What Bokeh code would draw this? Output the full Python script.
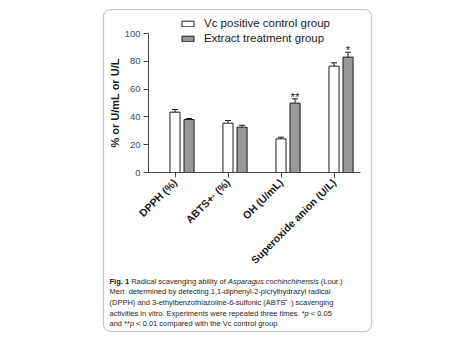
from bokeh.plotting import figure
from bokeh.models import (ColumnDataSource, Range1d, FixedTicker, Whisker,
                          TeeHead, Legend, LegendItem, Label, BoxAnnotation)
from bokeh.core.properties import value
from bokeh.embed import file_html
from bokeh.resources import INLINE

# ---- data ----
categories = ["DPPH (%)", "ABTS+· (%)", "OH (U/mL)", "Superoxide anion (U/L)"]
vc_values = [43.4, 35.5, 24.2, 76.5]
vc_errors = [1.9, 1.9, 1.2, 2.4]
ext_values = [38.1, 32.6, 49.9, 83.0]
ext_errors = [0.7, 1.4, 3.1, 3.5]
stars = ["", "", "**", "*"]
series_names = ["Vc positive control group", "Extract treatment group"]
y_ticks = [0, 20, 40, 60, 80, 100]
y_label = "% or U/mL or U/L"

caption_lines = [
    [("Fig. 1", "bold"), (" Radical scavenging ability of ", "normal"),
     ("Asparagus cochinchinensis", "italic"), (" (Lour.)", "normal")],
    [("Merr. determined by detecting 1,1-diphenyl-2-picrylhydrazyl radical", "normal")],
    [("(DPPH) and 3-ethylbenzothiazoline-6-sulfonic (ABTS⁺·) scavenging", "normal")],
    [("activities in vitro. Experiments were repeated three times. *", "normal"),
     ("p", "italic"), (" < 0.05", "normal")],
    [("and **", "normal"), ("p", "italic"), (" < 0.01 compared with the Vc control group", "normal")],
]

# ---- layout constants (canvas pixels) ----
W, H = 450, 342
X0_PX, X_PX_PER = 148.0, 53.0      # x value 0 at canvas x=148
Y0_PX, Y_PX_PER = 172.0, 1.39      # y value 0 at canvas y=172
FONT = "Liberation Sans"
OFF = 0.265
BW = 0.19

n = len(categories)
pos_vc = [i + 0.5 for i in range(n)]
pos_ext = [i + 0.5 + OFF for i in range(n)]

src = ColumnDataSource(dict(
    xv=pos_vc, xe=pos_ext, vc=vc_values, ext=ext_values,
    vc_up=[v + e for v, e in zip(vc_values, vc_errors)],
    ext_up=[v + e for v, e in zip(ext_values, ext_errors)],
))

x_range = Range1d(-X0_PX / X_PX_PER, (W - X0_PX) / X_PX_PER)
y_range = Range1d((Y0_PX - H) / Y_PX_PER, Y0_PX / Y_PX_PER)

p = figure(width=W, height=H, x_range=x_range, y_range=y_range,
           output_backend="svg", toolbar_location=None, min_border=0)
p.outline_line_color = None
p.xgrid.visible = False
p.ygrid.visible = False

r_vc = p.vbar(x="xv", top="vc", width=BW, source=src,
              fill_color="white", line_color="#1a1a1a", line_width=1)
r_ext = p.vbar(x="xe", top="ext", width=BW, source=src,
               fill_color="#999999", line_color="#1a1a1a", line_width=1)

for col_x, col_base, col_up in (("xv", "vc", "vc_up"), ("xe", "ext", "ext_up")):
    w = Whisker(source=src, base=col_x, lower=col_base, upper=col_up,
                line_color="#1a1a1a", line_width=1, lower_head=None,
                upper_head=TeeHead(size=6, line_color="#1a1a1a", line_width=1))
    p.add_layout(w)

star_idx = [i for i, s in enumerate(stars) if s]
star_src = ColumnDataSource(dict(
    x=[pos_ext[i] for i in star_idx],
    y=[ext_values[i] + ext_errors[i] + 1.6 for i in star_idx],
    t=[stars[i] for i in star_idx],
))
p.text(x="x", y="y", text="t", source=star_src,
       text_align="center", text_baseline="alphabetic", text_font=value(FONT),
       text_font_size="11.5px", text_color="#1a1a1a")

# axes (drawn at fixed positions inside the canvas)
xa, ya = p.xaxis[0], p.yaxis[0]
xa.fixed_location = 0
ya.fixed_location = 0
xa.bounds = (0, n)
ya.bounds = (y_ticks[0], y_ticks[-1])
for ax in (xa, ya):
    ax.axis_line_color = "#444444"
    ax.major_tick_line_color = "#444444"
    ax.minor_tick_line_color = None
    ax.major_tick_out = 5
    ax.major_tick_in = 0
ya.ticker = FixedTicker(ticks=y_ticks)
ya.major_label_text_font = FONT
ya.major_label_text_font_size = "9.5px"
ya.major_label_text_color = "#4d4d4d"
ya.major_label_standoff = 3
ya.axis_label = y_label
ya.axis_label_text_font = FONT
ya.axis_label_text_font_size = "11px"
ya.axis_label_text_font_style = "bold"
ya.axis_label_text_color = "#1a1a1a"
ya.axis_label_standoff = 1

xa.ticker = FixedTicker(ticks=pos_vc)
xa.major_label_overrides = {pv: c for pv, c in zip(pos_vc, categories)}
xa.major_label_orientation = 0.785398
xa.major_label_text_font = FONT
xa.major_label_text_font_size = "10.5px"
xa.major_label_text_font_style = "bold"
xa.major_label_text_color = "#1a1a1a"
xa.major_label_standoff = 3


def sx(cx):
    return cx


def sy(cy):
    return H - cy


legend = Legend(items=[LegendItem(label=series_names[0], renderers=[r_vc]),
                       LegendItem(label=series_names[1], renderers=[r_ext])],
                location=(sx(180), sy(45)), orientation="vertical",
                glyph_width=15, glyph_height=7, label_standoff=9, label_height=14, spacing=1,
                padding=0, margin=0, border_line_color=None, background_fill_alpha=0,
                label_text_font=FONT, label_text_font_size="11.5px", label_text_color="#1a1a1a")
p.add_layout(legend, "center")

# rounded frame box around figure + caption
box = BoxAnnotation(left=sx(103), right=sx(371), top=sy(9), bottom=sy(331),
                    left_units="screen", right_units="screen", top_units="screen", bottom_units="screen",
                    fill_alpha=0, line_color="#444444", line_width=1.2, border_radius=7)
p.add_layout(box)

# caption (Arial/Liberation Sans advance widths, per 1000 em, to place styled runs)
AR = {' ': 278, '(': 333, ')': 333, '*': 389, '+': 584, ',': 278, '-': 333, '.': 278, '<': 584,
      '·': 278, '⁺': 350, '/': 278}
for d in "0123456789":
    AR[d] = 556
AR.update(dict(zip("ABCDEFGHIJKLMNOPQRSTUVWXYZ",
                   [667, 667, 722, 722, 667, 611, 778, 722, 278, 500, 667, 556, 833, 722, 778, 667,
                    778, 722, 667, 611, 722, 667, 944, 667, 667, 611])))
AR.update(dict(zip("abcdefghijklmnopqrstuvwxyz",
                   [556, 556, 500, 556, 556, 278, 556, 556, 222, 222, 500, 222, 833, 556, 556, 556,
                    556, 333, 500, 278, 556, 500, 722, 500, 500, 500])))
ARB = dict(AR)
ARB.update({'g': 611, 'i': 278, 'F': 611})


def tw(s, size, style):
    tab = ARB if style == "bold" else AR
    return sum(tab.get(c, 556) for c in s) / 1000.0 * size


CAP_SIZE = 7.5
CAP_X0 = 109
CAP_Y0 = 280.7
CAP_DY = 10.65
for li, segs in enumerate(caption_lines):
    x = CAP_X0
    cy = CAP_Y0 + li * CAP_DY
    for txt, style in segs:
        lead = len(txt) - len(txt.lstrip(" "))
        core = txt.strip(" ")
        lab = Label(x=sx(x + tw(txt[:lead], CAP_SIZE, style)), y=sy(cy),
                    x_units="screen", y_units="screen", text=core,
                    text_font=FONT, text_font_size=f"{CAP_SIZE}px", text_font_style=style,
                    text_color="#111111" if style == "bold" else "#262626",
                    text_baseline="middle", text_align="left")
        p.add_layout(lab)
        x += tw(txt, CAP_SIZE, style)

open("out.html", "w").write(file_html(p, INLINE))
